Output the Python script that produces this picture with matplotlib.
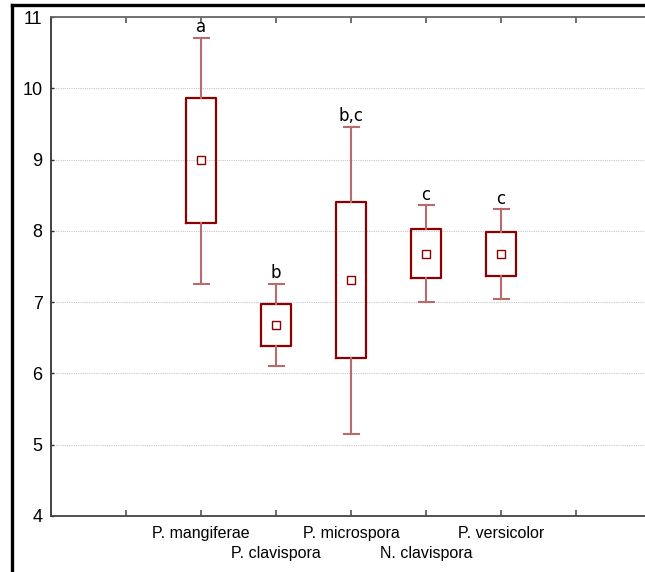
import matplotlib.pyplot as plt
from matplotlib.lines import Line2D

# species and box statistics
species = ['P. mangiferae', 'P. clavispora', 'P. microspora', 'N. clavispora', 'P. versicolor']
means = [9.00, 6.68, 7.31, 7.68, 7.68]
box_low = [8.11, 6.39, 6.22, 7.34, 7.36]
box_high = [9.86, 6.97, 8.40, 8.02, 7.99]
whisk_low = [7.26, 6.11, 5.15, 7.00, 7.04]
whisk_high = [10.71, 7.26, 9.46, 8.36, 8.30]
letters = ['a', 'b', 'b,c', 'c', 'c']

W, H = 645, 572
fig = plt.figure(figsize=(W / 100, H / 100), dpi=100)
ax = fig.add_axes([51 / W, (H - 516) / H, (W - 51) / W, (516 - 17) / H])

dark = '#8b0000'
light = '#b86a6e'

stats = []
for i in range(len(species)):
    stats.append({'mean': means[i], 'med': means[i], 'q1': box_low[i], 'q3': box_high[i],
                  'whislo': whisk_low[i], 'whishi': whisk_high[i], 'fliers': []})

pos = list(range(1, len(species) + 1))
ax.bxp(stats, positions=pos, widths=0.39, showmeans=True, showfliers=False,
       boxprops=dict(color=dark, linewidth=1.6),
       whiskerprops=dict(color=light, linewidth=1.5),
       capprops=dict(color=light, linewidth=1.5),
       capwidths=0.2,
       medianprops=dict(linestyle='none'),
       meanprops=dict(marker='s', markersize=6, markerfacecolor='white',
                      markeredgecolor=dark, markeredgewidth=1.0),
       zorder=3)

for p, top, lab in zip(pos, whisk_high, letters):
    ax.annotate(lab, (p, top), xytext=(0, 4), textcoords='offset points',
                ha='center', va='baseline', fontsize=12, family='DejaVu Sans')

ax.set_xlim(-1, (W - 126) / 75)
ax.set_ylim(4, 11)
ax.set_yticks(range(4, 12))
ax.yaxis.grid(True, color='#c8c8c8', linestyle=(0, (1, 1)), linewidth=0.8)
ax.set_axisbelow(True)

ax.set_xticks(range(0, 7))
ax.set_xticklabels([''] + species + [''], fontsize=11.5, family='Liberation Sans')
ax.tick_params(axis='x', direction='in', length=4, width=1.2, pad=7, top=True, color='#555555')
ax.tick_params(axis='y', direction='in', length=2, width=1.0, pad=6, labelsize=13, color='#333333')
for t in ax.get_yticklabels():
    t.set_family('Liberation Sans')

# stagger every second species label onto a lower row
for i, tick in enumerate(ax.xaxis.get_major_ticks()):
    if i in (2, 4):
        tick.set_pad(21.5)

ax.spines['right'].set_visible(False)
ax.spines['top'].set_color('#666666')
ax.spines['bottom'].set_color('#444444')
ax.spines['left'].set_color('#333333')
for s in ['top', 'bottom', 'left']:
    ax.spines[s].set_linewidth(1.3)

# outer frame
fig.add_artist(Line2D([12 / W, 12 / W], [0, 1 - 5 / H], color='black', linewidth=2.4))
fig.add_artist(Line2D([12 / W, 1], [1 - 5 / H, 1 - 5 / H], color='black', linewidth=2.4))

fig.savefig('out.png', dpi=100)
